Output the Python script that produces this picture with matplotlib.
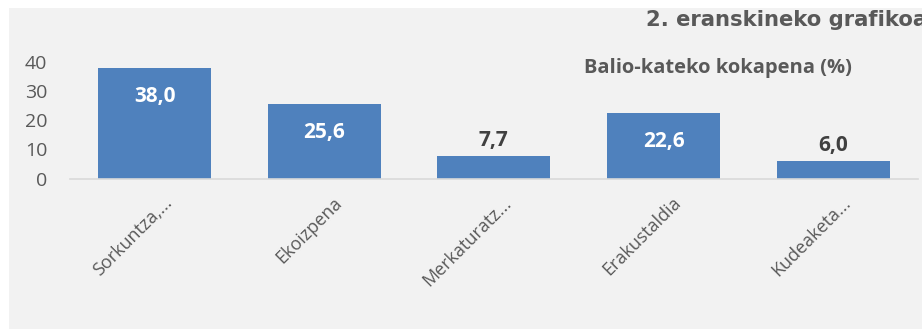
import matplotlib.pyplot as plt
from matplotlib.patches import Rectangle
from matplotlib.transforms import ScaledTranslation

# data
categories = ['Sorkuntza,...', 'Ekoizpena', 'Merkaturatz...', 'Erakustaldia', 'Kudeaketa...']
values = [38.0, 25.6, 7.7, 22.6, 6.0]
inside = [True, True, False, True, False]

bar_color = '#4f81bd'
text_gray = '#595959'

plt.rcParams['font.family'] = ['Open Sans', 'DejaVu Sans']

fig = plt.figure(figsize=(9.22, 3.29), dpi=100, facecolor='white')
# gray chart area background
bg = Rectangle((9 / 922, 0), 1, 1 - 8 / 329, transform=fig.transFigure,
               facecolor='#f2f2f2', edgecolor='none', zorder=-10)
fig.add_artist(bg)

ax = fig.add_axes([0.0756, 0.4574, 0.9201, 0.3542])
ax.set_facecolor('none')
ax.set_zorder(5)

x = range(len(categories))
ax.bar(x, values, width=0.667, color=bar_color, zorder=2)
ax.set_xlim(-0.5, len(categories) - 0.5)
ax.set_ylim(0, 40)
ax.set_yticks([0, 10, 20, 30, 40])

for i, v in enumerate(values):
    label = f'{v:.1f}'.replace('.', ',')
    if inside[i]:
        ax.annotate(label, (i, v), xytext=(0, -20.5), textcoords='offset points',
                    ha='center', va='center', color='white', fontsize=15, fontweight='bold')
    else:
        ax.annotate(label, (i, v), xytext=(0, 11.5), textcoords='offset points',
                    ha='center', va='center', color='#404040', fontsize=15, fontweight='bold')

for s in ['top', 'right', 'left']:
    ax.spines[s].set_visible(False)
ax.spines['bottom'].set_color('#d9d9d9')
ax.spines['bottom'].set_linewidth(1.2)

ax.tick_params(axis='y', length=0, labelsize=14, labelcolor=text_gray, pad=16)
ax.tick_params(axis='x', length=0, labelsize=13, labelcolor=text_gray, pad=11)
ax.set_xticks(list(x))
ax.set_xticklabels(categories, rotation=45, ha='right', rotation_mode='anchor')
shift = ScaledTranslation(6 / 72, 0, fig.dpi_scale_trans)
for lbl in ax.get_xticklabels():
    lbl.set_transform(lbl.get_transform() + shift)

# title runs off the right edge, as in the original
fig.text(646 / 922, 1 - 20 / 329, '2. eranskineko grafikoa', fontsize=15.2, fontweight='bold',
         color=text_gray, family='DejaVu Sans', ha='left', va='center')
fig.text(717.5 / 922, 1 - 68 / 329, 'Balio-kateko kokapena (%)', fontsize=14.5, fontweight='bold',
         color=text_gray, ha='center', va='center')

plt.savefig('out.png', dpi=100, facecolor=fig.get_facecolor())
